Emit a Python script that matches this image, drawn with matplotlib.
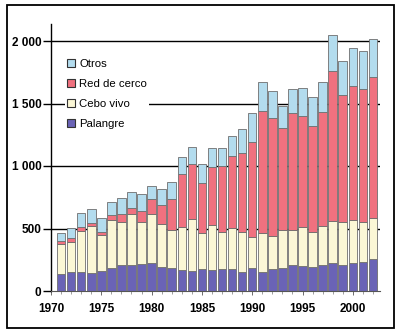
import matplotlib
matplotlib.use("Agg")
import matplotlib.pyplot as plt
from matplotlib.patches import Rectangle, Patch
import numpy as np

plt.rcParams['font.family'] = ['Liberation Sans', 'DejaVu Sans']

years = list(range(1971, 2003))

# Catch by gear type (stacked from bottom)
palangre = [133, 152, 152, 141, 163, 184, 205, 210, 216, 227, 192, 184, 170, 163, 173, 165,
            175, 176, 155, 181, 155, 173, 181, 208, 198, 195, 210, 228, 208, 227, 229, 256]
cebo_vivo = [240, 243, 331, 379, 285, 384, 347, 406, 339, 389, 341, 304, 340, 413, 288, 360,
             300, 325, 317, 251, 313, 270, 307, 280, 311, 280, 311, 334, 347, 341, 326, 328]
red_cerco = [27, 32, 32, 27, 27, 40, 61, 51, 88, 117, 152, 250, 428, 440, 400, 465,
             523, 579, 635, 763, 972, 944, 813, 933, 891, 845, 914, 1201, 1013, 1075, 1058, 1125]
otros = [61, 80, 106, 106, 106, 104, 128, 128, 130, 105, 128, 131, 131, 139, 152, 151,
         143, 160, 189, 226, 235, 216, 179, 192, 221, 235, 240, 285, 275, 298, 307, 304]

series_names = ["Palangre", "Cebo vivo", "Red de cerco", "Otros"]
series_colors = ["#6a63b6", "#fbf7d6", "#f0717f", "#b3dcee"]

yticks = [0, 500, 1000, 1500, 2000]
ytick_labels = ["0", "500", "1 000", "1 500", "2 000"]
xticks = [1970, 1975, 1980, 1985, 1990, 1995, 2000]

fig = plt.figure(figsize=(4.0, 3.35), dpi=100)
ax = fig.add_axes([51 / 400, 44 / 335, 329 / 400, 267 / 335])

# Horizontal reference lines behind the bars
for yv in yticks[1:]:
    ax.axhline(yv, color="black", linewidth=1.0, zorder=0)

bottom = np.zeros(len(years))
handles = []
for name, vals, col in zip(series_names, [palangre, cebo_vivo, red_cerco, otros], series_colors):
    ax.bar(years, vals, width=0.85, bottom=bottom, color=col,
           edgecolor="#6e6e6e", linewidth=0.6, zorder=2)
    bottom = bottom + np.array(vals)
    handles.append(Patch(facecolor=col, edgecolor="#333333", linewidth=0.8, label=name))

ax.set_xlim(1970, 2002.7)
ax.set_ylim(0, 2136)

ax.set_yticks(yticks)
ax.set_yticklabels(ytick_labels, fontweight="bold")
ax.set_xticks(xticks)
ax.set_xticklabels([str(x) for x in xticks], fontweight="bold")
ax.set_xticks(range(1970, 2003), minor=True)

ax.tick_params(axis="y", direction="out", length=6, width=1.0, pad=1,
               labelsize=8.5, colors="black")
ax.tick_params(axis="x", which="major", direction="out", length=3, width=0.6,
               pad=6, labelsize=8.5, color="#555555", labelcolor="black")
ax.tick_params(axis="x", which="minor", direction="out", length=2, width=0.5,
               color="#777777")

for side in ("top", "right"):
    ax.spines[side].set_visible(False)
ax.spines["left"].set_linewidth(1.0)
ax.spines["left"].set_color("black")
ax.spines["bottom"].set_linewidth(0.8)
ax.spines["bottom"].set_color("#555555")

leg = ax.legend(handles=handles[::-1], loc="upper left", bbox_to_anchor=(0.025, 0.9),
                frameon=True, prop={"size": 8.2}, handlelength=0.7, handleheight=0.7,
                handletextpad=0.35, labelspacing=0.88, borderpad=0.2)
leg.get_frame().set_facecolor("white")
leg.get_frame().set_edgecolor("none")
leg.get_frame().set_alpha(1.0)
leg.set_zorder(3)

# Outer frame around the whole figure
fig.patches.append(Rectangle((7 / 400, 7 / 335), 387 / 400, 323 / 335,
                             transform=fig.transFigure, fill=False,
                             edgecolor="black", linewidth=1.3))

fig.savefig("out.png", dpi=100)
